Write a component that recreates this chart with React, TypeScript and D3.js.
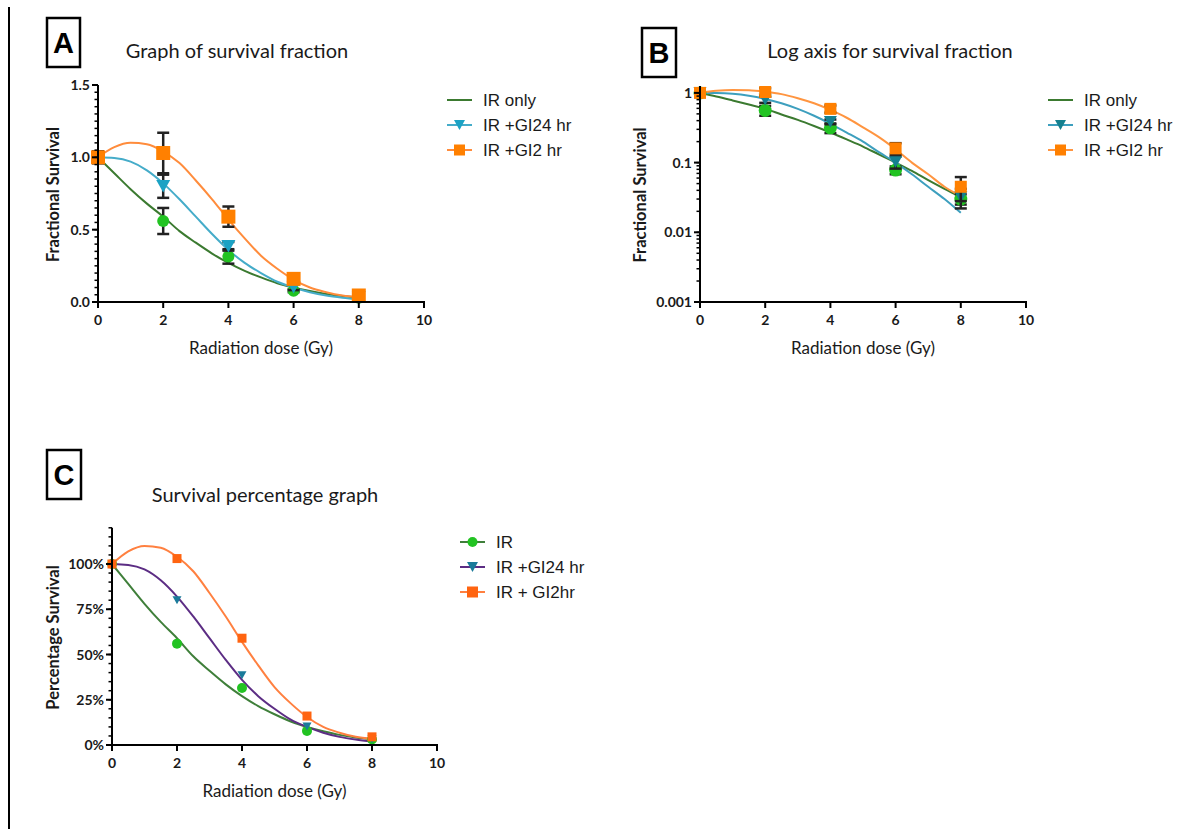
import React from "react";
import * as d3 from "d3";

// ---------- data ----------
const doses = [0, 2, 4, 6, 8];
const irOnly = [1.0, 0.56, 0.315, 0.078, 0.03];
const irOnlyErr = [0.04, 0.09, 0.05, 0.01, 0.005];
const gi24 = [1.0, 0.8, 0.385, 0.102, 0.032];
const gi24Err = [0.03, 0.08, 0.03, 0.02, 0.01];
const gi2 = [1.0, 1.03, 0.59, 0.16, 0.045];
const gi2Err = [0.04, 0.14, 0.07, 0.03, 0.017];

// fitted curves
const fitDoses = [0, 0.5, 1, 1.5, 2, 2.5, 3, 3.5, 4, 4.5, 5, 5.5, 6, 6.5, 7, 7.5, 8];
const fitIR = [1, 0.89, 0.78, 0.68, 0.59, 0.49, 0.41, 0.335, 0.27, 0.215, 0.17, 0.13, 0.1, 0.076, 0.056, 0.042, 0.032];
const fitGI24 = [1, 0.995, 0.97, 0.91, 0.82, 0.71, 0.59, 0.47, 0.36, 0.27, 0.2, 0.14, 0.1, 0.068, 0.045, 0.03, 0.019];
const fitGI2 = [1, 1.07, 1.1, 1.09, 1.04, 0.96, 0.84, 0.71, 0.57, 0.44, 0.32, 0.23, 0.155, 0.1, 0.068, 0.045, 0.033];

const xTicks = [0, 2, 4, 6, 8, 10];
const linTicksA = [0, 0.5, 1.0, 1.5];
const logTicksB = [0.001, 0.01, 0.1, 1];
const pctTicksC = [0, 0.25, 0.5, 0.75, 1.0];

const legendA = ["IR only", "IR +GI24 hr", "IR +GI2 hr"];
const legendC = ["IR", "IR +GI24 hr", "IR + GI2hr"];

const CAL = "Lato, 'Open Sans', sans-serif";
const ARI = "'Liberation Sans', Arial, sans-serif";
const TXT = "#1a1a1a";

type Shape = "circle" | "tri" | "square";
type Series = {
  values: number[];
  err?: number[];
  fit: number[];
  line: string;
  fill: string;
  shape: Shape;
  size: number;
};

function Marker({ shape, x, y, size, fill }: { shape: Shape; x: number; y: number; size: number; fill: string }) {
  if (shape === "circle") return <circle cx={x} cy={y} r={size / 2} fill={fill} />;
  if (shape === "square")
    return <rect x={x - size / 2} y={y - size / 2} width={size} height={size} fill={fill} />;
  const h = size * 0.9;
  return (
    <path
      d={`M${x - size / 2},${y - h / 2}L${x + size / 2},${y - h / 2}L${x},${y + h / 2}Z`}
      fill={fill}
    />
  );
}

type PanelProps = {
  letter: string;
  box: [number, number, number, number];
  title: string;
  titleX: number;
  titleY: number;
  x: d3.ScaleLinear<number, number>;
  y: any;
  yTicks: number[];
  yMinor: number[];
  yFmt: (v: number) => string;
  yLabel: string;
  yLabelX: number;
  series: Series[];
  errors: boolean;
};

function Panel(p: PanelProps) {
  const x0 = p.x.range()[0];
  const x1 = p.x.range()[1];
  const yr = p.y.range();
  const yBottom = yr[0];
  const yTop = yr[1];
  const line = (s: Series) =>
    d3
      .line<number>()
      .x((_, i) => p.x(fitDoses[i]))
      .y((v) => p.y(v))
      .curve(d3.curveMonotoneX)(s.fit) || "";
  return (
    <g>
      <rect
        x={p.box[0]}
        y={p.box[1]}
        width={p.box[2]}
        height={p.box[3]}
        fill="none"
        stroke="#000"
        strokeWidth={2.5}
      />
      <text
        x={p.box[0] + p.box[2] / 2}
        y={p.box[1] + p.box[3] / 2 + 10}
        textAnchor="middle"
        fontFamily={ARI}
        fontWeight="bold"
        fontSize={29}
        fill="#000"
      >
        {p.letter}
      </text>
      <text x={p.titleX} y={p.titleY} textAnchor="middle" fontFamily={CAL} fontSize={20} fill={TXT}>
        {p.title}
      </text>
      {/* curves */}
      {p.series.map((s, i) => (
        <path key={"c" + i} d={line(s)} fill="none" stroke={s.line} strokeWidth={2} />
      ))}
      {/* points + errors */}
      {p.series.map((s, i) => (
        <g key={"p" + i}>
          {p.errors &&
            s.err &&
            s.values.map((v, j) => {
              const cx = p.x(doses[j]);
              const lo = p.y(Math.max(v - s.err![j], 1e-6));
              const hi = p.y(v + s.err![j]);
              return (
                <g key={j} stroke="#222" strokeWidth={2.5}>
                  <line x1={cx} x2={cx} y1={lo} y2={hi} />
                  <line x1={cx - 6} x2={cx + 6} y1={lo} y2={lo} />
                  <line x1={cx - 6} x2={cx + 6} y1={hi} y2={hi} />
                </g>
              );
            })}
          {s.values.map((v, j) => (
            <Marker key={j} shape={s.shape} x={p.x(doses[j])} y={p.y(v)} size={s.size} fill={s.fill} />
          ))}
        </g>
      ))}
      {/* axes */}
      <g stroke="#000">
        <line x1={x0} x2={x0} y1={yTop} y2={yBottom + 1} strokeWidth={2} />
        <line x1={x0 - 1} x2={x1 + 1} y1={yBottom} y2={yBottom} strokeWidth={2} />
        {p.yMinor.map((v, i) => (
          <line key={"m" + i} x1={x0 - 3.5} x2={x0} y1={p.y(v)} y2={p.y(v)} strokeWidth={1.5} />
        ))}
        {p.yTicks.map((v, i) => (
          <line key={"M" + i} x1={x0 - 6} x2={x0} y1={p.y(v)} y2={p.y(v)} strokeWidth={2} />
        ))}
        {xTicks.map((v, i) => (
          <line key={"x" + i} x1={p.x(v)} x2={p.x(v)} y1={yBottom} y2={yBottom + 6} strokeWidth={2} />
        ))}
      </g>
      {p.yTicks.map((v, i) => (
        <text
          key={"yl" + i}
          x={x0 - 8}
          y={p.y(v) + 5}
          textAnchor="end"
          fontFamily={CAL}
          fontWeight="bold"
          fontSize={14}
          fill={TXT}
        >
          {p.yFmt(v)}
        </text>
      ))}
      {xTicks.map((v, i) => (
        <text
          key={"xl" + i}
          x={p.x(v)}
          y={yBottom + 23}
          textAnchor="middle"
          fontFamily={CAL}
          fontWeight="bold"
          fontSize={14}
          fill={TXT}
        >
          {v}
        </text>
      ))}
      <text
        x={(x0 + x1) / 2}
        y={yBottom + 52}
        textAnchor="middle"
        fontFamily={CAL}
        fontSize={17}
        fill={TXT}
      >
        Radiation dose (Gy)
      </text>
      <text
        transform={`translate(${p.yLabelX},${(yTop + yBottom) / 2 + 1}) rotate(-90)`}
        textAnchor="middle"
        fontFamily={CAL}
        fontWeight="bold"
        fontSize={16.5}
        fill={TXT}
      >
        {p.yLabel}
      </text>
    </g>
  );
}

function Legend({
  x,
  y,
  labels,
  series,
  showFirstMarker,
}: {
  x: number;
  y: number;
  labels: string[];
  series: Series[];
  showFirstMarker: boolean;
}) {
  return (
    <g>
      {labels.map((l, i) => {
        const s = series[i];
        const yy = y + i * 25;
        return (
          <g key={i}>
            <line x1={x} x2={x + 25} y1={yy} y2={yy} stroke={s.line} strokeWidth={2} />
            {(i > 0 || showFirstMarker) && (
              <Marker shape={s.shape} x={x + 12.5} y={yy} size={i === 0 ? 10 : 11} fill={s.fill} />
            )}
            <text x={x + 36} y={yy + 6} fontFamily={ARI} fontSize={17} fill={TXT}>
              {l}
            </text>
          </g>
        );
      })}
    </g>
  );
}

export default function App() {
  const xA = d3.scaleLinear().domain([0, 10]).range([98, 424]);
  const yA = d3.scaleLinear().domain([0, 1.5]).range([302, 85]);
  const xB = d3.scaleLinear().domain([0, 10]).range([700, 1026]);
  const yB = d3.scaleLog().domain([0.001, 1.26]).range([302, 302 - 69.7 * (3 + Math.log10(1.26))]);
  const xC = d3.scaleLinear().domain([0, 10]).range([112, 437]);
  const yC = d3.scaleLinear().domain([0, 1.2]).range([745, 745 - 1.2 * 181]);

  const seriesA: Series[] = [
    { values: irOnly, err: irOnlyErr, fit: fitIR, line: "#3b7a30", fill: "#22c322", shape: "circle", size: 12 },
    { values: gi24, err: gi24Err, fit: fitGI24, line: "#45acc9", fill: "#1ba2c4", shape: "tri", size: 14 },
    { values: gi2, err: gi2Err, fit: fitGI2, line: "#ff8c3c", fill: "#ff8000", shape: "square", size: 14 },
  ];
  const seriesB: Series[] = [
    { values: irOnly, err: irOnlyErr, fit: fitIR, line: "#3b7a30", fill: "#22c322", shape: "circle", size: 13 },
    { values: gi24, err: gi24Err, fit: fitGI24, line: "#3d9fbe", fill: "#15808f", shape: "tri", size: 13 },
    { values: gi2, err: gi2Err, fit: fitGI2, line: "#ff9540", fill: "#ff8000", shape: "square", size: 12 },
  ];
  const seriesC: Series[] = [
    { values: irOnly, fit: fitIR, line: "#3f7f3a", fill: "#22c322", shape: "circle", size: 10 },
    { values: gi24, fit: fitGI24, line: "#5c2d84", fill: "#1a7a9a", shape: "tri", size: 9 },
    { values: gi2, fit: fitGI2, line: "#ff8040", fill: "#ff6410", shape: "square", size: 9 },
  ];

  const minorA = d3.range(0, 1.5001, 0.05);
  const minorC = d3.range(0, 1.2001, 0.05);
  const minorB: number[] = [];
  [-3, -2, -1, 0].forEach((k) =>
    d3.range(1, 10).forEach((m) => {
      const v = m * Math.pow(10, k);
      if (v <= 1.26) minorB.push(v);
    })
  );

  return (
    <svg
      width={1202}
      height={829}
      style={{ position: "absolute", left: 0, top: 0, background: "#fff" }}
    >
      <rect width={1202} height={829} fill="#fff" />
      <line x1={9} x2={9} y1={7} y2={829} stroke="#000" strokeWidth={2} />
      <Panel
        letter="A"
        box={[47, 18, 33, 49]}
        title="Graph of survival fraction"
        titleX={237}
        titleY={58}
        x={xA}
        y={yA}
        yTicks={linTicksA}
        yMinor={minorA}
        yFmt={(v) => v.toFixed(1)}
        yLabel="Fractional Survival"
        yLabelX={59}
        series={seriesA}
        errors={true}
      />
      <Panel
        letter="B"
        box={[642, 28, 34, 49]}
        title="Log axis for survival fraction"
        titleX={890}
        titleY={58}
        x={xB}
        y={yB}
        yTicks={logTicksB}
        yMinor={minorB}
        yFmt={(v) => String(v)}
        yLabel="Fractional Survival"
        yLabelX={646}
        series={seriesB}
        errors={true}
      />
      <Panel
        letter="C"
        box={[47, 450, 34, 49]}
        title="Survival percentage graph"
        titleX={265}
        titleY={502}
        x={xC}
        y={yC}
        yTicks={pctTicksC}
        yMinor={minorC}
        yFmt={(v) => `${Math.round(v * 100)}%`}
        yLabel="Percentage Survival"
        yLabelX={59}
        series={seriesC}
        errors={false}
      />
      <Legend x={447} y={100} labels={legendA} series={seriesA} showFirstMarker={false} />
      <Legend x={1048} y={100} labels={legendA} series={seriesB} showFirstMarker={false} />
      <Legend x={460} y={542} labels={legendC} series={seriesC} showFirstMarker={true} />
    </svg>
  );
}
